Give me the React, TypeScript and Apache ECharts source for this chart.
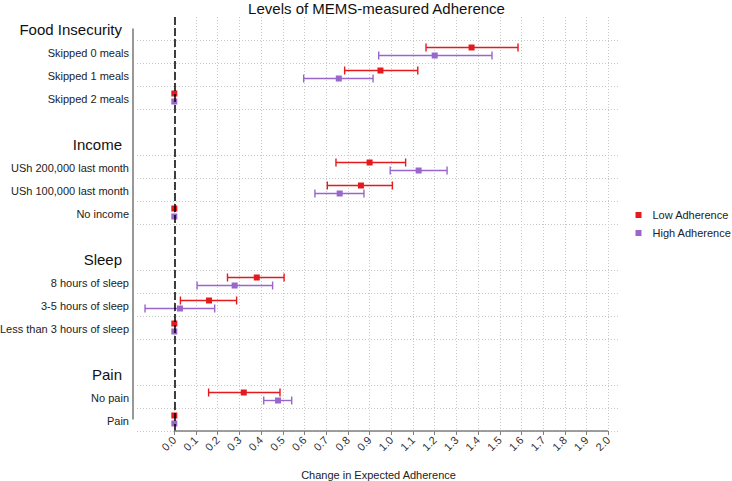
import React, { useEffect, useRef } from 'react';
import * as echarts from 'echarts';

const chartTitle = 'Levels of MEMS-measured Adherence';
const xAxisName = 'Change in Expected Adherence';
const groupNames = ['Food Insecurity', 'Income', 'Sleep', 'Pain'];
const foodLevels = ['Skipped 0 meals', 'Skipped 1 meals', 'Skipped 2 meals'];
const incomeLevels = ['USh 200,000 last month', 'USh 100,000 last month', 'No income'];
const sleepLevels = ['8 hours of sleep', '3-5 hours of sleep', 'Less than 3 hours of sleep'];
const painLevels = ['No pain', 'Pain'];
const seriesNames = ['Low Adherence', 'High Adherence'];
const xTicks = [0.0, 0.1, 0.2, 0.3, 0.4, 0.5, 0.6, 0.7, 0.8, 0.9, 1.0, 1.1, 1.2, 1.3, 1.4, 1.5, 1.6, 1.7, 1.8, 1.9, 2.0];

// one value per level, in the order food, income, sleep, pain (null = reference level, no interval)
const lowEstimate = [1.37, 0.95, 0, 0.9, 0.86, 0, 0.38, 0.16, 0, 0.32, 0];
const lowLower = [1.16, 0.785, null, 0.745, 0.705, null, 0.245, 0.028, null, 0.158, null];
const lowUpper = [1.584, 1.122, null, 1.066, 1.005, null, 0.506, 0.287, null, 0.487, null];
const highEstimate = [1.2, 0.758, 0, 1.126, 0.762, 0, 0.278, 0.026, 0, 0.478, 0];
const highLower = [0.942, 0.596, null, 0.995, 0.648, null, 0.105, -0.135, null, 0.412, null];
const highUpper = [1.464, 0.916, null, 1.257, 0.874, null, 0.453, 0.186, null, 0.541, null];

const RED = '#E41A1C';
const PURPLE = '#9966CC';
const AXIS_C = '#7f7f7f';
const FONT = '"Liberation Sans", Arial, Helvetica, sans-serif';

const levelGroups = [foodLevels, incomeLevels, sleepLevels, painLevels];
const rowKeys: string[] = [];
const rowLabels: string[] = [];
const rowIsHeader: boolean[] = [];
const levelRow: number[] = [];
levelGroups.forEach((levels, g) => {
  rowKeys.push('h' + g);
  rowLabels.push(groupNames[g]);
  rowIsHeader.push(true);
  levels.forEach((lv, i) => {
    levelRow.push(rowKeys.length);
    rowKeys.push('l' + g + '_' + i);
    rowLabels.push(lv);
    rowIsHeader.push(false);
  });
  if (g < levelGroups.length - 1) {
    rowKeys.push('b' + g);
    rowLabels.push('');
    rowIsHeader.push(false);
  }
});

const GRID = { left: 137, right: 112, top: 17, bottom: 50 };
const X_MIN = -0.172;
const X_MAX = 2.054;

function errorBarSeries(name: string, lower: (number | null)[], upper: (number | null)[], color: string, offset: number) {
  const data: number[][] = [];
  lower.forEach((lo, i) => {
    const hi = upper[i];
    if (lo !== null && hi !== null) data.push([lo, hi, levelRow[i]]);
  });
  return {
    type: 'custom',
    name,
    silent: true,
    z: 3,
    itemStyle: { color },
    encode: { x: [0, 1], y: 2 },
    data,
    renderItem: (params: any, api: any) => {
      const p0 = api.coord([api.value(0), api.value(2)]);
      const p1 = api.coord([api.value(1), api.value(2)]);
      const y = p0[1] + offset;
      const style = { stroke: color, lineWidth: 1.4, fill: 'none' };
      return {
        type: 'group',
        children: [
          { type: 'line', shape: { x1: p0[0], y1: y, x2: p1[0], y2: y }, style },
          { type: 'line', shape: { x1: p0[0], y1: y - 4, x2: p0[0], y2: y + 4 }, style },
          { type: 'line', shape: { x1: p1[0], y1: y - 4, x2: p1[0], y2: y + 4 }, style },
        ],
      };
    },
  };
}

function pointSeries(name: string, est: number[], color: string, offset: number) {
  return {
    type: 'scatter',
    name,
    z: 4,
    symbol: 'rect',
    symbolSize: 6,
    symbolOffset: [0, offset],
    itemStyle: { color, opacity: 1 },
    data: est.map((v, i) => [v, levelRow[i]]),
  };
}

// capped axis lines: x axis from first to last tick, y axis from first to last row
const cappedAxesSeries = {
  type: 'custom',
  silent: true,
  clip: false,
  z: 5,
  encode: { x: 0, y: 1 },
  data: [[xTicks[0], 0]],
  renderItem: (params: any, api: any) => {
    const cs = params.coordSys;
    const a = api.coord([xTicks[0], 0]);
    const b = api.coord([xTicks[xTicks.length - 1], rowKeys.length - 1]);
    const bottom = cs.y + cs.height;
    const style = { stroke: AXIS_C, lineWidth: 1.6, fill: 'none' };
    return {
      type: 'group',
      children: [
        { type: 'line', shape: { x1: cs.x - 4, y1: a[1], x2: cs.x - 4, y2: b[1] }, style },
        { type: 'line', shape: { x1: a[0], y1: bottom, x2: b[0], y2: bottom }, style },
      ],
    };
  },
};

export default function App() {
  const ref = useRef<HTMLDivElement>(null);
  useEffect(() => {
    document.body.style.margin = '0';
    if (!ref.current) return;
    const chart = echarts.init(ref.current, null, { renderer: 'svg' });
    const width = chart.getWidth();
    const plotW = width - GRID.left - GRID.right;
    const gridCenterX = GRID.left + plotW / 2;

    const option: any = {
      animation: false,
      textStyle: { fontFamily: FONT },
      grid: { ...GRID, containLabel: false, outerBoundsMode: 'none' },
      legend: {
        orient: 'vertical',
        left: 635.5,
        top: 208.5,
        padding: 0,
        icon: 'rect',
        itemWidth: 6,
        itemHeight: 6,
        itemGap: 5,
        textStyle: { fontSize: 11, color: '#222', lineHeight: 13, padding: [0, 0, 0, 6], fontFamily: FONT },
        data: seriesNames,
      },
      xAxis: {
        type: 'value',
        min: X_MIN,
        max: X_MAX,
        name: xAxisName,
        nameLocation: 'middle',
        nameGap: 38,
        nameTextStyle: { fontSize: 11, color: '#222', fontFamily: FONT },
        axisLine: { show: false },
        axisTick: { show: true, customValues: xTicks, length: 4, lineStyle: { color: AXIS_C } },
        axisLabel: {
          customValues: xTicks,
          rotate: 45,
          margin: 7,
          fontSize: 11,
          color: '#333',
          formatter: (v: number) => v.toFixed(1),
        },
        splitLine: { show: true, lineStyle: { color: '#c8c8c8', type: [1, 2], width: 1 } },
      },
      yAxis: {
        type: 'category',
        inverse: true,
        data: rowKeys,
        axisLine: { show: false },
        axisTick: { show: false },
        axisLabel: {
          interval: 0,
          margin: 8,
          formatter: (_v: string, index: number) =>
            rowIsHeader[index] ? `{h|${rowLabels[index]}}` : `{l|${rowLabels[index]}}`,
          rich: {
            h: { fontSize: 15, color: '#111', padding: [1, 7, 0, 0], fontFamily: FONT },
            l: { fontSize: 11, color: '#222', padding: [2, 0, 0, 0], fontFamily: FONT },
          },
        },
        splitLine: {
          show: true,
          interval: (index: number) => index !== 0 && !rowIsHeader[index],
          lineStyle: { color: '#c8c8c8', type: [1, 2], width: 1 },
        },
      },
      graphic: [
        {
          type: 'text',
          x: gridCenterX - 2,
          y: 8,
          style: { text: chartTitle, font: `15px ${FONT}`, fill: '#111', textAlign: 'center', textVerticalAlign: 'middle' },
        },
      ],
      series: [
        pointSeries(seriesNames[0], lowEstimate, RED, -4),
        pointSeries(seriesNames[1], highEstimate, PURPLE, 4),
        errorBarSeries(seriesNames[0], lowLower, lowUpper, RED, -4),
        errorBarSeries(seriesNames[1], highLower, highUpper, PURPLE, 4),
        cappedAxesSeries,
        {
          type: 'scatter',
          z: 2,
          data: [],
          markLine: {
            silent: true,
            symbol: 'none',
            label: { show: false },
            lineStyle: { color: '#000', type: [8, 3], width: 1.5 },
            data: [{ xAxis: 0 }],
          },
        },
      ],
    };
    chart.setOption(option);

    return () => chart.dispose();
  }, []);
  return <div ref={ref} style={{ width: 732, height: 481 }} />;
}
